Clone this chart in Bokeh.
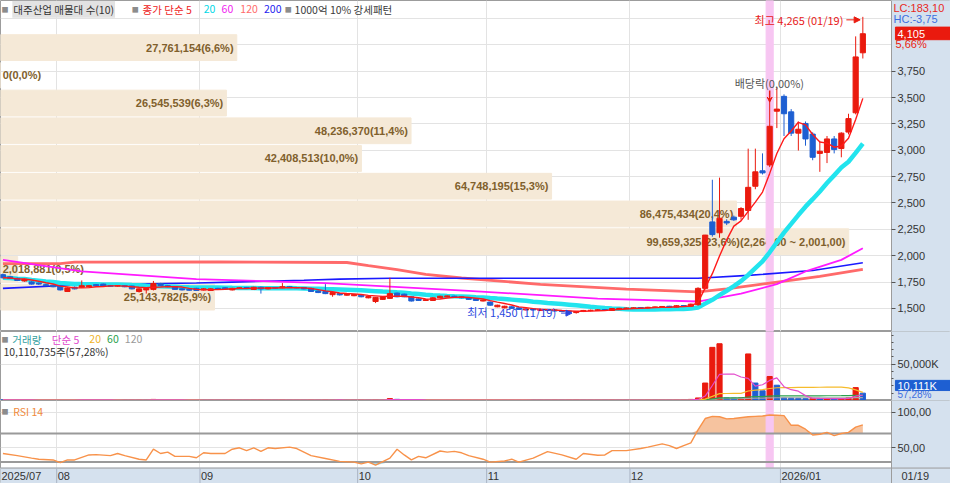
import pandas as pd
from bokeh.embed import file_html
from bokeh.layouts import column
from bokeh.models import (Arrow, FixedTicker, Grid, Label, LinearAxis, NormalHead,
                          NumeralTickFormatter, Range1d, VeeHead)
from bokeh.plotting import figure
from bokeh.resources import INLINE
from bokeh.core.properties import value

# ---- daily candles, 2025-07-22 .. 2026-01-19 (index = trading day) ----
opens = [1820, 1800, 1785, 1760, 1750, 1740, 1725, 1720, 1712, 1660,
         1700, 1700, 1705, 1725, 1730, 1715, 1712, 1715, 1712, 1660,
         1675, 1680, 1735, 1715, 1705, 1685, 1680, 1690, 1675, 1670,
         1690, 1695, 1675, 1690, 1698, 1680, 1700, 1685, 1697, 1695,
         1705, 1697, 1698, 1690, 1665, 1660, 1630, 1640, 1625, 1620,
         1625, 1600, 1565, 1585, 1595, 1645, 1635, 1610, 1590, 1575,
         1575, 1600, 1610, 1615, 1610, 1600, 1590, 1570, 1560, 1515,
         1505, 1515, 1505, 1485, 1495, 1480, 1490, 1485, 1480, 1475,
         1460, 1470, 1478, 1480, 1488, 1480, 1495, 1498, 1500, 1508,
         1505, 1508, 1512, 1520, 1512, 1527, 1520, 1535, 1690, 2320,
         2217, 2325, 2365, 2373, 2428, 2658, 2805, 2860, 3370, 3511,
         3364, 3162, 3254, 3153, 2970, 2979, 3107, 3016, 3172, 3355,
         3924]
highs = [1830, 1808, 1792, 1782, 1758, 1745, 1732, 1726, 1718, 1700,
         1708, 1765, 1722, 1730, 1735, 1722, 1720, 1720, 1716, 1690,
         1695, 1760, 1742, 1720, 1710, 1690, 1686, 1695, 1692, 1690,
         1695, 1700, 1695, 1700, 1703, 1705, 1706, 1702, 1702, 1740,
         1710, 1702, 1702, 1695, 1670, 1730, 1655, 1646, 1640, 1636,
         1630, 1616, 1606, 1615, 1790, 1650, 1640, 1615, 1595, 1588,
         1605, 1620, 1622, 1620, 1614, 1605, 1594, 1582, 1565, 1535,
         1525, 1520, 1510, 1500, 1500, 1495, 1495, 1490, 1485, 1480,
         1475, 1485, 1488, 1492, 1494, 1502, 1505, 1508, 1510, 1512,
         1515, 1518, 1522, 1524, 1530, 1532, 1545, 1700, 2197, 2720,
         2740, 2345, 2380, 2460, 3015, 3015, 2970, 3475, 3594, 3530,
         3390, 3273, 3273, 3170, 3089, 3135, 3135, 3170, 3346, 4080,
         4265]
lows = [1785, 1780, 1760, 1752, 1725, 1722, 1710, 1700, 1670, 1655,
        1680, 1695, 1700, 1708, 1705, 1705, 1705, 1700, 1680, 1650,
        1640, 1670, 1712, 1700, 1676, 1670, 1668, 1665, 1670, 1665,
        1678, 1680, 1670, 1685, 1688, 1676, 1640, 1680, 1688, 1690,
        1692, 1690, 1680, 1655, 1645, 1635, 1610, 1622, 1620, 1615,
        1605, 1595, 1550, 1580, 1590, 1605, 1605, 1565, 1570, 1570,
        1570, 1595, 1605, 1600, 1595, 1580, 1570, 1565, 1525, 1510,
        1500, 1495, 1485, 1480, 1480, 1475, 1475, 1470, 1465, 1460,
        1450, 1465, 1472, 1476, 1478, 1476, 1490, 1494, 1496, 1498,
        1500, 1504, 1508, 1508, 1508, 1515, 1515, 1525, 1680, 2180,
        2170, 2290, 2330, 2340, 2340, 2630, 2770, 2840, 3210, 3135,
        3135, 2997, 3043, 2905, 2795, 2878, 2970, 2933, 3150, 3340,
        3870]
closes = [1790, 1785, 1765, 1775, 1730, 1730, 1715, 1705, 1675, 1694,
          1685, 1715, 1715, 1715, 1710, 1710, 1715, 1705, 1685, 1685,
          1690, 1735, 1715, 1705, 1680, 1675, 1672, 1670, 1685, 1685,
          1683, 1685, 1690, 1695, 1692, 1700, 1685, 1697, 1692, 1705,
          1697, 1695, 1685, 1660, 1650, 1640, 1650, 1628, 1635, 1632,
          1610, 1612, 1605, 1610, 1640, 1610, 1610, 1570, 1575, 1582,
          1600, 1615, 1618, 1605, 1600, 1585, 1575, 1578, 1530, 1530,
          1520, 1500, 1490, 1495, 1485, 1490, 1480, 1475, 1470, 1465,
          1470, 1480, 1482, 1486, 1482, 1498, 1500, 1503, 1505, 1502,
          1510, 1514, 1518, 1512, 1525, 1520, 1540, 1690, 2195, 2200,
          2355, 2310, 2340, 2447, 2648, 2795, 2785, 3227, 3390, 3346,
          3162, 3199, 3107, 2933, 2990, 3107, 3006, 3162, 3300, 3885,
          4105]
# volume, million shares
volumes_m = [0.9, 0.8, 0.7, 0.8, 0.7, 0.6, 0.6, 0.7, 0.9, 0.8,
             0.6, 1.2, 0.8, 0.6, 0.6, 0.5, 0.5, 0.6, 0.7, 0.8,
             0.7, 1.5, 0.9, 0.6, 0.6, 0.5, 0.5, 0.6, 0.6, 0.6,
             0.5, 0.5, 0.6, 0.5, 0.5, 0.7, 0.8, 0.6, 0.5, 0.9,
             0.6, 0.5, 0.5, 0.7, 0.6, 1.0, 0.8, 0.6, 0.5, 0.5,
             0.6, 0.6, 0.9, 0.7, 2.6, 1.6, 0.9, 0.8, 0.6, 0.5,
             0.6, 0.6, 0.5, 0.5, 0.5, 0.6, 0.6, 0.5, 0.8, 0.7,
             0.6, 0.6, 0.6, 0.5, 0.5, 0.5, 0.5, 0.6, 0.6, 0.7,
             0.9, 0.7, 0.6, 0.5, 0.5, 0.6, 0.5, 0.5, 0.5, 0.5,
             0.6, 0.6, 0.6, 0.6, 0.7, 0.9, 1.5, 3.5, 24.0, 73.0,
             78.0, 3.5, 3.2, 3.6, 64.0, 24.0, 13.3, 33.0, 21.0, 3.6,
             3.3, 3.0, 2.6, 2.9, 2.5, 2.8, 2.4, 2.7, 3.9, 17.7,
             10.110735]

# long moving averages (index, price)
ma60_x = [0, 11, 27, 45, 65, 83, 97, 103, 108, 112, 117, 120]
ma60_y = [1960, 1850, 1777, 1740, 1666, 1593, 1565, 1639, 1730, 1850, 1960, 2070]
ma120_x = [0, 8, 10, 30, 48, 51, 55, 59, 64, 75, 87, 97, 101, 107, 114, 120]
ma120_y = [1925, 1925, 1938, 1940, 1935, 1905, 1868, 1822, 1788, 1728, 1682,
           1657, 1684, 1740, 1804, 1870]
ma200_x = [0, 10, 27, 32, 42, 47, 54, 97, 104, 113, 120]
ma200_y = [1690, 1721, 1740, 1749, 1767, 1777, 1786, 1786, 1813, 1859, 1932]

# RSI 14
rsi_x = [0, 2, 4, 5, 7, 8, 9, 10, 12, 13, 15, 16, 17, 19, 20, 21, 22, 23, 24, 26,
         27, 28, 29, 31, 32, 33, 34, 35, 36, 37, 38, 40, 41, 43, 45, 47, 49, 50, 51, 52,
         54, 55, 56, 57, 58, 59, 61, 62, 63, 64, 65, 67, 68, 70, 71, 72, 74, 76, 78, 80,
         81, 83, 84, 85, 87, 89, 90, 92, 93, 94, 95, 96, 97, 98, 99, 100, 101, 102, 104, 105,
         106, 107, 108, 109, 110, 111, 112, 113, 114, 115, 116, 117, 118, 119, 120]
rsi_y = [42, 39, 35.6, 34, 33, 29.3, 33, 33, 40, 40.5, 39, 42, 39, 34, 33, 48, 42, 44, 38, 38,
         36, 43, 42, 42, 48, 50, 46, 50, 45, 50, 49, 51, 49, 39, 35, 31, 30, 27.5, 30, 25.7,
         35.6, 48, 40, 33, 38, 36, 45.5, 44, 45, 43, 39, 34, 30, 31.5, 34, 30, 35.6, 44.6, 40, 34,
         42, 39.5, 40, 46, 46, 49, 51, 55.4, 53, 49, 53, 57, 75, 91, 94, 93.5, 90.5, 91, 93.5, 94,
         94.5, 96, 95.5, 95, 81.5, 81.5, 76, 68, 69, 71.6, 67, 70, 71.6, 79, 82]

# volume profile (매물대), bottom band first
vp_volume = [25143782, 2018881, 99659325, 86475434, 64748195, 42408513,
             48236370, 26545539, 0, 27761154]
vp_pct = [5.9, 0.5, 23.6, 20.4, 15.3, 10.0, 11.4, 6.3, 0.0, 6.6]
vp_bottom = 1475.0
vp_step = 263.0

month_first = [8, 28, 50, 68, 88, 109]
month_labels = ["08", "09", "10", "11", "12", "2026/01"]
price_ticks = [1500, 1750, 2000, 2250, 2500, 2750, 3000, 3250, 3500, 3750]
exdiv_idx = 107

KR = "Noto Sans CJK KR"
EN = "Liberation Sans"
RED = "#ea1a0e"
BLUE = "#1e5fd2"
AXIS_BG = "#d5e1ee"
GRID = "#e3e3e3"

FW = 950                      # whole width; the chart part ends at X1
X0, X1 = -0.34, 124.0
XR = X1 + 59 * (X1 - X0) / (FW - 59)
xr = Range1d(X0, XR)
month_edges = [m - 0.5 for m in month_first]
idx = list(range(len(closes)))


# placement helpers: reference pixel -> data position (annotations only)
def fx(px):
    return (px - 5.5) / 7.26


def fy_p(py):
    return 3750 - (py - 73) * 9.18


def fy_v(py):
    return (413.3 - py) / 0.752 * 1e6


def fy_r(py):
    return 50 + (462 - py) / 0.74


def panel(h, y0, y1, ticks, grid_ticks=None):
    f = figure(frame_width=FW, frame_height=h, x_range=xr, y_range=Range1d(y0, y1),
               x_axis_location=None, y_axis_location=None,
               output_backend="svg", toolbar_location=None,
               min_border=0, background_fill_color="white",
               border_fill_color=AXIS_BG, outline_line_color="#9c9c9c")
    f.xgrid.visible = False
    f.ygrid.visible = False
    f.add_layout(Grid(dimension=0, ticker=FixedTicker(ticks=month_edges),
                      grid_line_color=GRID))
    f.add_layout(Grid(dimension=1, ticker=FixedTicker(ticks=grid_ticks or ticks),
                      grid_line_color=GRID))
    # right-hand axis column
    f.quad(left=X1, right=XR, bottom=y0, top=y1, color=AXIS_BG)
    ax = LinearAxis(fixed_location=X1, ticker=FixedTicker(ticks=ticks))
    ax.axis_line_color = "#9c9c9c"
    ax.major_tick_in = 0
    ax.major_tick_out = 4
    ax.major_tick_line_color = "#555555"
    ax.minor_tick_line_color = None
    ax.major_label_text_font = EN
    ax.major_label_text_font_size = "11px"
    ax.major_label_text_color = "#333333"
    ax.major_label_standoff = 2
    f.add_layout(ax, "right")
    return f, ax


def put(f, x, y, text, color, size="11px", font=KR, align="left", **kw):
    f.add_layout(Label(x=x, y=y, text=text, text_color=color, text_font=font,
                       text_font_size=size, text_align=align,
                       text_baseline="middle", **kw))


# ---------------- price panel ----------------
p, pax = panel(331, fy_p(342), fy_p(0), price_ticks, price_ticks + [4000, 4250])
pax.formatter = NumeralTickFormatter(format="0,0")

vp_center = [vp_bottom + (i + 0.5) * vp_step for i in range(len(vp_volume))]
vp_right = [X0 + v / max(vp_volume) * 0.952 * (X1 - X0) for v in vp_volume]
p.hbar(y=vp_center, height=vp_step * 0.93, left=X0, right=vp_right, color="#f5e9d7")

vp_text = [f"{v:,}({c:.1f}%)".replace(".", ",") for v, c in zip(vp_volume, vp_pct)]
top = vp_volume.index(max(vp_volume))
lo_edge = vp_bottom + top * vp_step
vp_text[top] += f"({lo_edge + vp_step:,.2f} ~ {lo_edge:,.2f})".replace(".", ",")
big = [i for i, v in enumerate(vp_volume) if v > 5e6]
small = [i for i, v in enumerate(vp_volume) if v <= 5e6]
vp_font = dict(text_font=value(EN), text_font_size="11px", text_font_style="bold",
               text_color="#80602c", text_baseline="middle")
p.text(x=[vp_right[i] - 0.45 for i in big], y=[vp_center[i] for i in big],
       text=[vp_text[i] for i in big], text_align="right", **vp_font)
p.text(x=[X0 + 0.3] * len(small), y=[vp_center[i] for i in small],
       text=[vp_text[i] for i in small], text_align="left", **vp_font)

p.vbar(x=[exdiv_idx], width=1.0, bottom=fy_p(342), top=fy_p(0), color="#f7c6f2")

ma5 = pd.Series(closes).rolling(5, min_periods=1).mean()
ma20 = pd.Series(closes).rolling(20, min_periods=1).mean()
p.line(ma120_x, ma120_y, color="#ff6a6a", line_width=2.8)
p.line(ma200_x, ma200_y, color="#1a1aff", line_width=1.6)
p.line(ma60_x, ma60_y, color="#ff1aff", line_width=1.8)
p.line(idx, ma20, color="#22e4ee", line_width=4.5)

ccol = [RED if c >= o else BLUE for o, c in zip(opens, closes)]
p.segment(x0=idx, y0=lows, x1=idx, y1=highs, color=ccol, line_width=1)
p.vbar(x=idx, width=0.72, top=[max(o, c) for o, c in zip(opens, closes)],
       bottom=[min(o, c) for o, c in zip(opens, closes)],
       fill_color=ccol, line_color=ccol, line_width=1)
p.line(idx, ma5, color="#ff1a1a", line_width=1.4)

# legend row
ly = fy_p(9)
LS = "10.5px"
put(p, fx(4), ly, "■", "#8c8c8c", size="7px")
put(p, fx(15), ly, "대주산업 매물대 수(10)", "#333333", size=LS,
    background_fill_color="#e2e2e2", padding=1)
put(p, fx(136), ly, "■", "#8c8c8c", size="7px")
put(p, fx(147), ly, "종가 단순 5", "#ee2222", size=LS)
put(p, fx(209), ly, "20", "#00d8e6", size=LS)
put(p, fx(227), ly, "60", "#f01cf0", size=LS)
put(p, fx(246), ly, "120", "#ff6b6b", size=LS)
put(p, fx(270), ly, "200", "#2424f0", size=LS)
put(p, fx(291), ly, "■", "#8c8c8c", size="7px")
put(p, fx(301), ly, "1000억 10% 강세패턴", "#3a3a3a", size=LS)

# highs / lows / ex-dividend
put(p, fx(857), fy_p(20), "최고 4,265 (01/19)", "#e82020", align="right")
p.add_layout(Arrow(end=NormalHead(size=6, fill_color=RED, line_color=RED),
                   x_start=fx(860), y_start=fy_p(20), x_end=fx(874), y_end=fy_p(20),
                   line_color=RED, line_width=1))
put(p, fx(476), fy_p(322), "최저 1,450 (11/19)", "#2a48e0")
p.add_layout(Arrow(end=NormalHead(size=6, fill_color="#2a48e0", line_color="#2a48e0"),
                   x_start=fx(571), y_start=fy_p(323), x_end=fx(582), y_end=fy_p(323),
                   line_color="#2a48e0", line_width=1))
put(p, fx(782), fy_p(85), "배당락(0,00%)", "#555555", align="center")
p.add_layout(Arrow(end=VeeHead(size=5, line_color=RED, fill_color=RED),
                   x_start=exdiv_idx, y_start=fy_p(93), x_end=exdiv_idx, y_end=fy_p(105),
                   line_color=RED, line_width=1.5))

# right-side price labels
put(p, X1, fy_p(8), "LC:183,10", "#e8281c", font=EN, x_offset=2)
put(p, X1, fy_p(19), "HC:-3,75", "#3c6ee0", font=EN, x_offset=2)
p.quad(left=X1 + 0.55, right=XR, bottom=fy_p(40.5), top=fy_p(27.5), color=RED)
put(p, X1, closes[-1], f"{closes[-1]:,}", "white", font=EN, x_offset=6)
put(p, X1, fy_p(45), "5,66%", RED, font=EN, x_offset=4)

# ---------------- volume panel ----------------
v, vax = panel(69, 0, fy_v(342), [50e6])
vax.ticker = FixedTicker(ticks=[50e6], minor_ticks=[k * 10e6 for k in range(1, 10)])
vax.major_label_overrides = {50000000: "50,000K"}
vax.minor_tick_line_color = "#555555"
vax.minor_tick_in = 0
vax.minor_tick_out = 2

vol = [m * 1e6 for m in volumes_m]
vcol = [BLUE] + [RED if b > a else BLUE for a, b in zip(vol[:-1], vol[1:])]
v.vbar(x=[exdiv_idx], width=1.0, bottom=0, top=fy_v(342), color="#f7c6f2")
v.vbar(x=idx, width=0.72, top=vol, bottom=0, fill_color=vcol, line_color=vcol)
vs = pd.Series(vol)
for n, col in [(120, "#a8a8a8"), (60, "#2aa04c"), (20, "#f6bc2c"), (5, "#e44ccc")]:
    v.line(idx, vs.rolling(n, min_periods=1).mean(), color=col, line_width=1.2)

vy = fy_v(350)
put(v, fx(4), vy, "■", "#8c8c8c", size="7px")
put(v, fx(15), vy, "거래량", "#35a0a0", size=LS)
put(v, fx(55), vy, "단순 5", "#e044cc", size=LS)
put(v, fx(93), vy, "20", "#f0b428", size=LS)
put(v, fx(111), vy, "60", "#2aa04c", size=LS)
put(v, fx(129), vy, "120", "#9a9a9a", size=LS)
put(v, fx(6), fy_v(363), "10,110,735주(57,28%)", "#333333", size=LS)
v.quad(left=X1 + 0.55, right=XR, bottom=fy_v(403), top=fy_v(392.5), color=BLUE)
put(v, X1, fy_v(398), "10,111K", "white", font=EN, x_offset=6)
put(v, X1, fy_v(407.5), "57,28%", "#3c6ee0", size="10px", font=EN, x_offset=6)

# ---------------- RSI panel (with the date strip below it) ----------------
r, rax = panel(83, fy_r(499), fy_r(413), [50, 100])
rax.major_label_overrides = {50: "50,00", 100: "100,00"}
strip = fy_r(483)
r.varea(x=rsi_x, y1=70, y2=[max(q, 70) for q in rsi_y], fill_color="#f6c39f")
r.varea(x=rsi_x, y1=[min(q, 30) for q in rsi_y], y2=30, fill_color="#a9d9e6")
r.vbar(x=[exdiv_idx], width=1.0, bottom=strip, top=fy_r(413), color="#f7c6f2")
r.segment(x0=X0, x1=X1, y0=[70, 30], y1=[70, 30], line_color="#9a9a9a", line_width=2)
r.line(rsi_x, rsi_y, color="#f8924a", line_width=1.4)
put(r, fx(4), fy_r(424), "■", "#8c8c8c", size="7px")
put(r, fx(16), fy_r(424), "RSI 14", "#f08a3c", size=LS)

r.quad(left=X0, right=XR, bottom=fy_r(499), top=strip, color=AXIS_BG)
r.segment(x0=X0, x1=XR, y0=strip, y1=strip, line_color="#9c9c9c", line_width=1)
r.segment(x0=month_edges, x1=month_edges, y0=fy_r(499), y1=strip,
          line_color="#aab4c4", line_width=1)
dy = fy_r(491)
put(r, X0, dy, "2025/07", "#333333", font=EN, x_offset=1)
for m, t in zip(month_edges, month_labels):
    put(r, m, dy, t, "#333333", font=EN, x_offset=1)
put(r, X1, dy, "01/19", "#333333", font=EN, x_offset=10)

layout = column(p, v, r)
open("out.html", "w", encoding="utf-8").write(file_html(layout, INLINE))
